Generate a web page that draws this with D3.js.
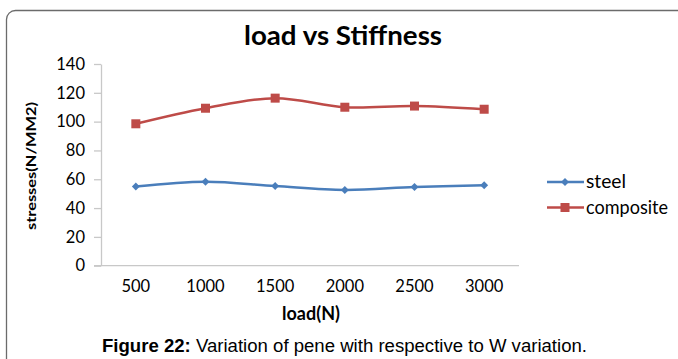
<!DOCTYPE html>
<html><head><meta charset="utf-8">
<script src="https://cdn.jsdelivr.net/npm/d3@7"></script>
<style>html,body{margin:0;padding:0;background:#fff;}svg{display:block;}</style>
</head><body>
<script>
const categories = ["500","1000","1500","2000","2500","3000"];
const steel = [55.0, 58.3, 55.3, 52.6, 54.6, 55.8];
const composite = [98.5, 109.3, 116.3, 110.0, 110.8, 108.6];
const yTicks = [0,20,40,60,80,100,120,140];
const seriesNames = ["steel","composite"];

(function(){
const W = 678, H = 359;
const svg = d3.select("body").append("svg").attr("width", W).attr("height", H);

// frame
svg.append("rect").attr("x", 6.5).attr("y", 10.5).attr("width", 690).attr("height", 380)
  .attr("rx", 9).attr("fill", "#fff").attr("stroke", "#6b6b6b").attr("stroke-width", 1.3);

const pL = 101, pR = 519, pT = 64, pB = 265.7;
const x = d3.scaleBand().domain(categories).range([pL, pR]);
const y = d3.scaleLinear().domain([0, 140]).range([pB, pT]);
const cx = c => x(c) + x.bandwidth() / 2;

// title
svg.append("text").attr("x", 343).attr("y", 45).attr("text-anchor", "middle")
  .attr("font-family", "Lato, 'Open Sans', sans-serif").attr("font-weight", "bold")
  .attr("font-size", 26).attr("fill", "#000")
  .attr("textLength", 198).attr("lengthAdjust", "spacingAndGlyphs")
  .text("load vs Stiffness");

// y axis
const yAxis = d3.axisLeft(y).tickValues(yTicks).tickSize(7).tickPadding(9).tickSizeOuter(0);
const gy = svg.append("g").attr("transform", `translate(${pL},0)`).call(yAxis);
gy.select(".domain").attr("stroke", "#c8c8c8").attr("stroke-width", 1.3);
gy.selectAll(".tick line").attr("stroke", "#c8c8c8").attr("stroke-width", 1.3);
gy.selectAll(".tick text").attr("font-family", "Lato, sans-serif").attr("font-size", 16.5).attr("fill", "#000");

// x axis
const xAxis = d3.axisBottom(x).tickSize(0).tickPadding(15).tickSizeOuter(0);
const gx = svg.append("g").attr("transform", `translate(0,${pB})`).call(xAxis);
gx.select(".domain").attr("stroke", "#c8c8c8").attr("stroke-width", 1.3).attr("d", `M${pL - 7},0H${pR}`);
gx.selectAll(".tick text").attr("font-family", "Lato, sans-serif").attr("font-size", 16.5).attr("fill", "#000");

// axis titles
svg.append("text").attr("x", 311).attr("y", 320).attr("text-anchor", "middle")
  .attr("font-family", "Lato, sans-serif").attr("font-weight", "bold").attr("font-size", 18)
  .text("load(N)");
svg.append("text").attr("transform", "translate(36,166) rotate(-90)").attr("text-anchor", "middle")
  .attr("font-family", "Lato, sans-serif").attr("font-weight", "bold").attr("font-size", 14)
  .attr("textLength", 128).attr("lengthAdjust", "spacingAndGlyphs")
  .text("stresses(N/MM2)");

// lines
const colors = {steel: "#4a7ebb", composite: "#be4b48"};
const data = {steel, composite};
const line = d3.line().x((d, i) => cx(categories[i])).y(d => y(d)).curve(d3.curveCatmullRom.alpha(0.5));
seriesNames.forEach(name => {
  svg.append("path").datum(data[name]).attr("d", line).attr("fill", "none")
    .attr("stroke", colors[name]).attr("stroke-width", 2.5);
});
// markers
const diamond = d3.symbol().type(d3.symbolDiamond2).size(40);
svg.append("g").selectAll("path").data(steel).join("path")
  .attr("transform", (d, i) => `translate(${cx(categories[i])},${y(d)})`)
  .attr("d", diamond).attr("fill", colors.steel);
svg.append("g").selectAll("rect").data(composite).join("rect")
  .attr("x", (d, i) => cx(categories[i]) - 4.5).attr("y", d => y(d) - 4.5)
  .attr("width", 9).attr("height", 9).attr("fill", colors.composite);

// legend
const lg = svg.append("g");
seriesNames.forEach((name, i) => {
  const ly = 182 + i * 25.5;
  lg.append("line").attr("x1", 547).attr("x2", 584).attr("y1", ly).attr("y2", ly)
    .attr("stroke", colors[name]).attr("stroke-width", 2.5);
  if (name === "steel") {
    lg.append("path").attr("transform", `translate(565,${ly})`).attr("d", diamond).attr("fill", colors[name]);
  } else {
    lg.append("rect").attr("x", 560.5).attr("y", ly - 4.5).attr("width", 9).attr("height", 9).attr("fill", colors[name]);
  }
  lg.append("text").attr("x", 586).attr("y", ly + 6).attr("font-family", "Lato, sans-serif")
    .attr("font-size", 19).attr("textLength", name === "steel" ? 40 : 82).attr("lengthAdjust", "spacingAndGlyphs")
    .text(name);
});

// caption
const cap = svg.append("text").attr("x", 102).attr("y", 351.5).attr("font-family", "'Liberation Sans', Arial, sans-serif")
  .attr("font-size", 17.5).attr("textLength", 485).attr("lengthAdjust", "spacingAndGlyphs");
cap.append("tspan").attr("font-weight", "bold").text("Figure 22:");
cap.append("tspan").text(" Variation of pene with respective to W variation.");
})();
</script>
</body></html>
